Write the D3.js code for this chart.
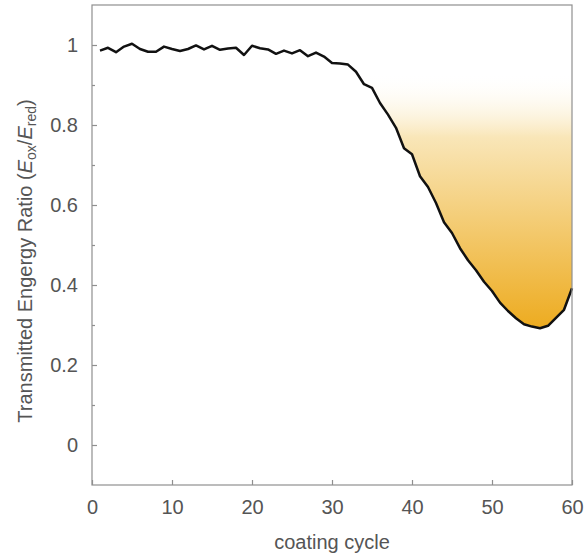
<!DOCTYPE html>
<html>
<head>
<meta charset="utf-8">
<script src="https://cdn.jsdelivr.net/npm/d3@7"></script>
<style>
  html, body { margin: 0; padding: 0; background: #fff; }
  svg { display: block; font-family: "Liberation Sans", Arial, Helvetica, sans-serif; }
</style>
</head>
<body>
<svg id="chart" width="585" height="559"></svg>
<script>
// Coating cycle number and transmitted energy ratio E_ox / E_red
const cycles = d3.range(1, 61);
const ratio = [
  0.986, 0.993, 0.982, 0.996, 1.003, 0.990, 0.983, 0.983, 0.996, 0.990,
  0.985, 0.990, 0.999, 0.989, 0.998, 0.988, 0.991, 0.993, 0.975, 0.998,
  0.992, 0.989, 0.978, 0.986, 0.979, 0.987, 0.972, 0.981, 0.971, 0.955,
  0.954, 0.951, 0.933, 0.902, 0.893, 0.855, 0.826, 0.793, 0.742, 0.727,
  0.672, 0.645, 0.605, 0.557, 0.530, 0.492, 0.462, 0.437, 0.408, 0.385,
  0.356, 0.335, 0.317, 0.302, 0.296, 0.292, 0.298, 0.318, 0.338, 0.392
];
const xTicks = [0, 10, 20, 30, 40, 50, 60];
const yTicks = [0, 0.2, 0.4, 0.6, 0.8, 1];
const yMinorTicks = [0.1, 0.3, 0.5, 0.7, 0.9];

const data = cycles.map((c, i) => ({ c, v: ratio[i] }));

const svg = d3.select("#chart");
const frame = { left: 92, right: 572, top: 5, bottom: 485 };

const x = d3.scaleLinear().domain([0, 60]).range([frame.left, frame.right]);
const y = d3.scaleLinear().domain([-0.1, 1.1]).range([frame.bottom, frame.top]);

const axisColor = "#8f8f8f";
const textColor = "#555555";

// vertical gradient under the falling part of the curve
const defs = svg.append("defs");
const grad = defs.append("linearGradient")
  .attr("id", "fade")
  .attr("gradientUnits", "userSpaceOnUse")
  .attr("x1", 0).attr("x2", 0)
  .attr("y1", y(0.93)).attr("y2", y(0.29));
grad.append("stop").attr("offset", 0).attr("stop-color", "#ffffff").attr("stop-opacity", 0);
grad.append("stop").attr("offset", 0.25).attr("stop-color", "#f9e6b8").attr("stop-opacity", 1);
grad.append("stop").attr("offset", 1).attr("stop-color", "#edab1f").attr("stop-opacity", 1);

defs.append("clipPath").attr("id", "plotClip")
  .append("rect")
  .attr("x", frame.left).attr("y", frame.top)
  .attr("width", frame.right - frame.left).attr("height", frame.bottom - frame.top);

const area = d3.area()
  .x(d => x(d.c))
  .y0(d => y(d.v))
  .y1(y(0.95));

svg.append("path")
  .datum(data.filter(d => d.c >= 30))
  .attr("d", area)
  .attr("fill", "url(#fade)")
  .attr("clip-path", "url(#plotClip)");

const line = d3.line().x(d => x(d.c)).y(d => y(d.v));
svg.append("path")
  .datum(data)
  .attr("d", line)
  .attr("fill", "none")
  .attr("stroke", "#111111")
  .attr("stroke-width", 2.5)
  .attr("stroke-linejoin", "round");

// frame
svg.append("rect")
  .attr("x", frame.left).attr("y", frame.top)
  .attr("width", frame.right - frame.left).attr("height", frame.bottom - frame.top)
  .attr("fill", "none").attr("stroke", axisColor).attr("stroke-width", 1.2);

// bottom axis: inward ticks, labels below
const xAxis = d3.axisBottom(x).tickValues(xTicks).tickSize(-5).tickPadding(15)
  .tickFormat(d3.format("d"));
const gx = svg.append("g").attr("transform", `translate(0,${frame.bottom})`).call(xAxis);
gx.select(".domain").remove();
gx.selectAll(".tick line").attr("stroke", axisColor).attr("stroke-width", 1.2);
gx.selectAll(".tick text").attr("fill", textColor).attr("font-size", 20)
  .attr("font-family", "Liberation Sans, Arial, sans-serif");

// left axis: major and minor inward ticks
const yAxis = d3.axisLeft(y).tickValues(yTicks).tickSize(-5).tickPadding(14)
  .tickFormat(d => d === 0 || d === 1 ? d3.format("d")(d) : d3.format(".1f")(d));
const gy = svg.append("g").attr("transform", `translate(${frame.left},0)`).call(yAxis);
gy.select(".domain").remove();
gy.selectAll(".tick line").attr("stroke", axisColor).attr("stroke-width", 1.2);
gy.selectAll(".tick text").attr("fill", textColor).attr("font-size", 20)
  .attr("font-family", "Liberation Sans, Arial, sans-serif");

const yMinor = d3.axisLeft(y).tickValues(yMinorTicks).tickSize(-3).tickFormat("");
const gym = svg.append("g").attr("transform", `translate(${frame.left},0)`).call(yMinor);
gym.select(".domain").remove();
gym.selectAll(".tick line").attr("stroke", axisColor).attr("stroke-width", 1.2);

// axis titles
svg.append("text")
  .attr("x", (frame.left + frame.right) / 2)
  .attr("y", 549)
  .attr("text-anchor", "middle")
  .attr("fill", textColor)
  .attr("font-size", 20)
  .text("coating cycle");

const yTitle = svg.append("text")
  .attr("transform", `translate(32,261) rotate(-90)`)
  .attr("text-anchor", "middle")
  .attr("fill", textColor)
  .attr("font-size", 20);
yTitle.append("tspan").text("Transmitted Engergy Ratio (");
yTitle.append("tspan").attr("font-style", "italic").text("E");
yTitle.append("tspan").attr("font-size", 14).attr("dy", 4).text("ox");
yTitle.append("tspan").attr("dy", -4).text("/");
yTitle.append("tspan").attr("font-style", "italic").text("E");
yTitle.append("tspan").attr("font-size", 14).attr("dy", 4).text("red");
yTitle.append("tspan").attr("dy", -4).text(")");
</script>
</body>
</html>
